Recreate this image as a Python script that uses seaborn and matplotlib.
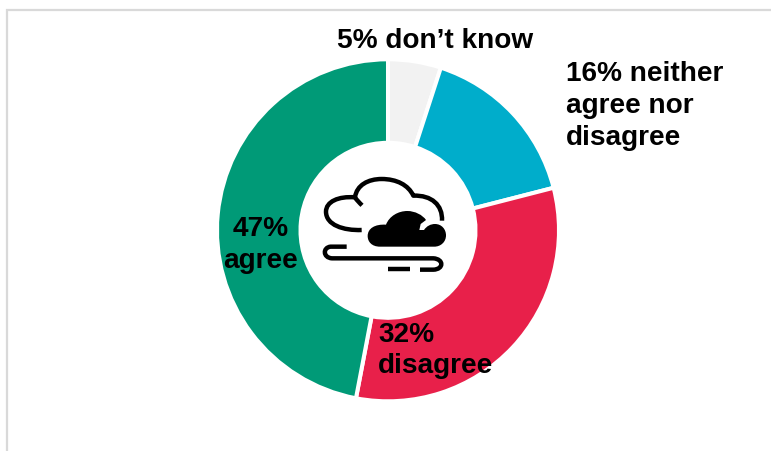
import matplotlib
matplotlib.use("Agg")
import matplotlib.pyplot as plt
from matplotlib.patches import PathPatch
from matplotlib.path import Path
import seaborn as sns

sns.set_theme(style="white")
plt.rcParams['font.family'] = ['Liberation Sans', 'DejaVu Sans']

# Survey responses, clockwise from twelve o'clock
categories = ["don\u2019t know", "neither agree nor disagree", "disagree", "agree"]
shares = [5, 16, 32, 47]
slice_colours = ["#F2F2F2", "#00ADCB", "#E8204A", "#009A77"]
label_texts = ["5% don\u2019t know", "16% neither\nagree nor\ndisagree", "32%\ndisagree", "47%\nagree"]

W, H = 771, 451
fig = plt.figure(figsize=(W / 100, H / 100), dpi=100, facecolor="white")

# Overlay in pixel units for frame, labels and the weather icon
overlay = fig.add_axes([0, 0, 1, 1], zorder=3)
overlay.set_xlim(0, W)
overlay.set_ylim(H, 0)
overlay.axis("off")
overlay.patch.set_alpha(0)

# Doughnut
ax = fig.add_axes([(388 - 171) / W, (H - 230.3 - 171) / H, 342 / W, 342 / H], zorder=1)
ax.pie(shares, colors=slice_colours, startangle=90, counterclock=False, radius=1,
       wedgeprops=dict(width=1 - 87.5 / 171, edgecolor="white", linewidth=2.9))
ax.set_xlim(-1, 1)
ax.set_ylim(-1, 1)
ax.set_aspect("equal")

# Panel edge along the top and left
edge = "#D9D9D9"
overlay.plot([7, 7, W], [H, 10, 10], color=edge, lw=1.6, solid_joinstyle="miter")

# Labels
font = dict(fontweight="bold", fontsize=20.2, color="black", linespacing=1.28)
overlay.text(337, 40.5, label_texts[0], ha="left", va="center", **font)
overlay.text(566, 106, label_texts[1], ha="left", va="center", **font)
overlay.text(378, 350.5, label_texts[2], ha="left", va="center", **font)
overlay.text(261, 245, label_texts[3], ha="center", va="center", **font)


def icon_xy(points):
    # The icon is laid out on a 3x grid anchored near the doughnut hole
    return [(300 + x / 3, 150 + y / 3) for x, y in points]


def stroke(verts, codes):
    patch = PathPatch(Path(icon_xy(verts), codes), fill=False, edgecolor="black",
                      lw=3.2, capstyle="butt", joinstyle="round")
    overlay.add_patch(patch)


M, L, C = Path.MOVETO, Path.LINETO, Path.CURVE4

# Outlined cloud
stroke([(185, 240), (130, 242), (78, 225), (78, 185),
        (78, 155), (115, 138), (165, 142),
        (170, 105), (205, 87), (245, 87),
        (290, 87), (325, 105), (340, 137),
        (395, 135), (428, 165), (426, 212)],
       [M] + [C] * 15)
stroke([(165, 142), (170, 150), (178, 158), (186, 166)], [M, C, C, C])

# Solid cloud with its white notch on the upper right
solid = [(240, 290),
         (215, 290), (203, 275), (203, 258),
         (203, 235), (225, 222), (258, 224),
         (268, 198), (295, 183), (322, 183),
         (345, 183), (368, 195), (378, 210),
         (362, 222), (358, 240),
         (372, 240),
         (380, 228), (392, 222), (405, 222),
         (425, 222), (438, 238), (438, 256),
         (438, 276), (422, 290), (403, 290),
         (240, 290)]
solid_codes = [M, C, C, C, C, C, C, C, C, C, C, C, C, L, L, L,
               C, C, C, C, C, C, C, C, C, L]
overlay.add_patch(PathPatch(Path(icon_xy(solid), solid_codes), facecolor="black", edgecolor="none"))

# Wind lines
stroke([(140, 290), (115, 290), (100, 290), (92, 290),
        (68, 292), (68, 323), (96, 325),
        (200, 325), (300, 325), (400, 325),
        (432, 327), (432, 358), (400, 359),
        (385, 359), (375, 359), (360, 359)],
       [M] + [C] * 15)
stroke([(265, 358), (331, 358)], [M, L])

fig.savefig("out.png", dpi=100, facecolor="white")
